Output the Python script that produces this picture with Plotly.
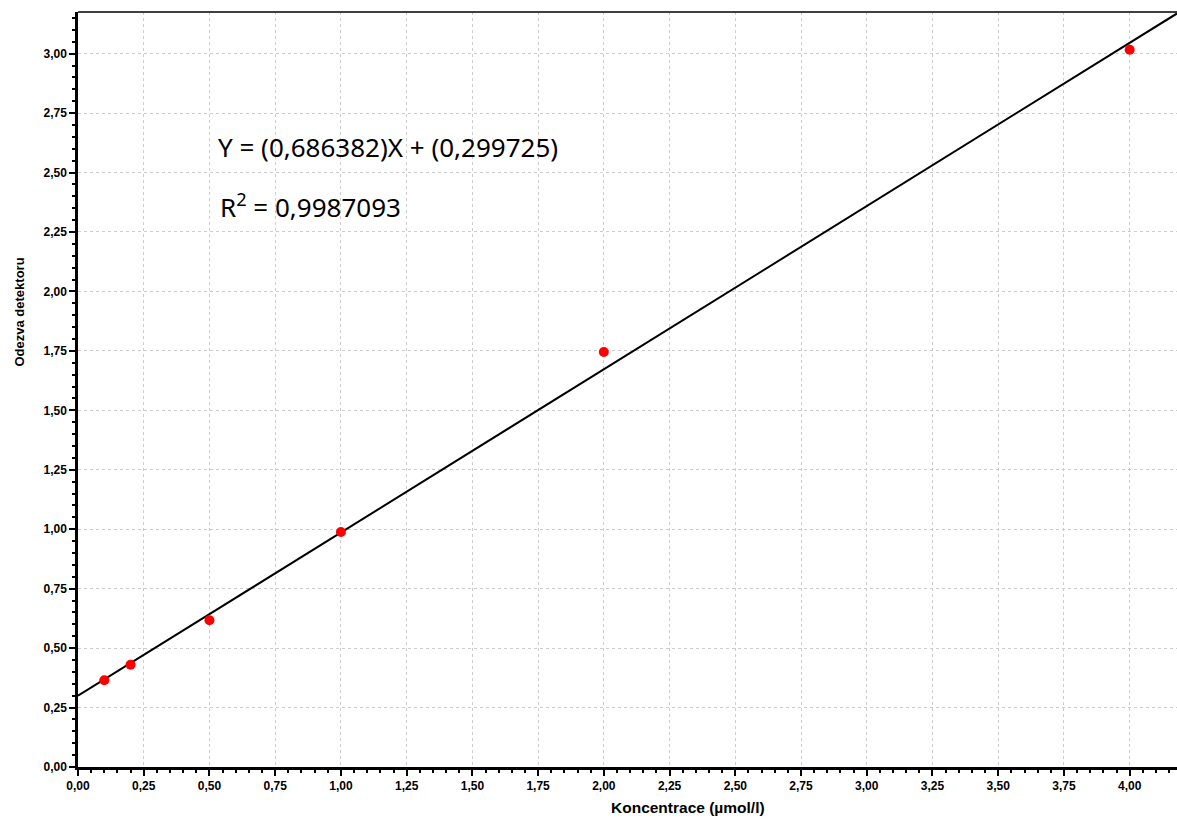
import plotly.graph_objects as go

# Data
konc = [0.1, 0.2, 0.5, 1.0, 2.0, 4.0]
odezva = [0.365, 0.430, 0.617, 0.988, 1.745, 3.016]
slope = 0.686382
intercept = 0.299725
eq_text = "Y = (0,686382)X + (0,299725)"
r2_text = "R<sup>2</sup> = 0,9987093"
x_title = "Koncentrace (µmol/l)"
y_title = "Odezva detektoru"

x_range = [0, 4.18]
y_range = [0, 3.175]
line_x = [x_range[0], x_range[1]]
line_y = [slope * v + intercept for v in line_x]

W, H = 1177, 820
ml, mr, mt, mb = 78, 0, 12, 53
pw, ph = W - ml - mr, H - mt - mb

fig = go.Figure()
fig.add_trace(go.Scatter(x=line_x, y=line_y, mode="lines",
                         line=dict(color="black", width=2), showlegend=False,
                         hoverinfo="skip"))
fig.add_trace(go.Scatter(x=konc, y=odezva, mode="markers",
                         marker=dict(color="#ff0000", size=10), showlegend=False))

tickfont = dict(family="Liberation Sans, Arial, sans-serif", size=12, color="black", weight="bold")
common = dict(showgrid=True, gridcolor="#cccccc", griddash="dot", gridwidth=1,
              showline=True, linecolor="black", linewidth=2.5,
              ticks="outside", ticklen=6, tickwidth=2, tickcolor="black",
              tickformat=".2f", dtick=0.25, tick0=0, zeroline=False,
              tickfont=tickfont,
              minor=dict(ticks="outside", ticklen=3, tickwidth=1.5, tickcolor="black",
                         dtick=0.05, showgrid=False))

fig.update_xaxes(range=x_range, **common)
fig.update_yaxes(range=y_range, **common)

fig.add_shape(type="line", xref="paper", yref="paper", x0=0, x1=1, y0=1, y1=1,
              line=dict(color="black", width=1.5))

ann_font = dict(family="Noto Sans, Open Sans, sans-serif", size=26, color="black")
fig.add_annotation(x=(216 - ml) / pw, y=(H - mb - 147) / ph, xref="paper", yref="paper",
                   text=eq_text, showarrow=False, xanchor="left", yanchor="middle", font=ann_font)
fig.add_annotation(x=(218 - ml) / pw, y=(H - mb - 206) / ph, xref="paper", yref="paper",
                   text=r2_text, showarrow=False, xanchor="left", yanchor="middle", font=ann_font)

fig.add_annotation(x=(688 - ml) / pw, y=(H - mb - 810) / ph, xref="paper", yref="paper",
                   text=x_title, showarrow=False, yshift=-8,
                   font=dict(family="Liberation Sans, Arial", size=15.5, color="black", weight="bold"))
fig.add_annotation(x=(18 - ml) / pw, y=(H - mb - 312) / ph, xref="paper", yref="paper",
                   text=y_title, showarrow=False, textangle=-90, xshift=-9,
                   font=dict(family="Liberation Sans, Arial", size=13, color="black", weight="bold"))

fig.update_layout(width=W, height=H,
                  margin=dict(l=ml, r=mr, t=mt, b=mb, pad=0, autoexpand=False),
                  plot_bgcolor="white", paper_bgcolor="white",
                  separators=",.", showlegend=False)

fig.write_html("out.html", config={"displayModeBar": False},
               post_script="document.body.style.margin='0';document.body.style.overflow='hidden';")
